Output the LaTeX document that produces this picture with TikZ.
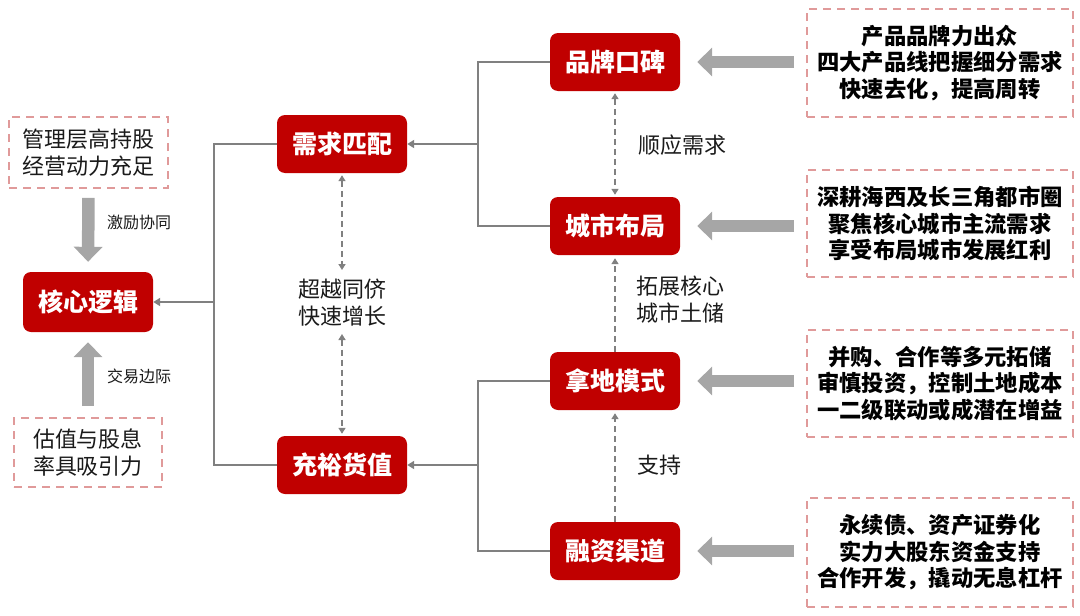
\documentclass[tikz,border=0pt]{standalone}
\usepackage{fontspec}
\setmainfont{Noto Sans CJK SC}
\usetikzlibrary{arrows.meta}
\definecolor{redfill}{HTML}{C00000}
\definecolor{pinkdash}{HTML}{E09A9A}
\definecolor{conngray}{HTML}{808080}
\definecolor{biggray}{HTML}{A6A6A6}
\definecolor{txt}{HTML}{1A1A1A}
\tikzset{
  redbox/.style={fill=redfill, rounded corners=8pt, minimum width=130pt, minimum height=58pt, inner sep=0pt,
    text=white, font=\fontsize{25}{29}\selectfont\bfseries},
  dashbox/.style={draw=pinkdash, line width=1.6pt, dash pattern=on 8pt off 6pt, inner sep=0pt, align=center, text=txt},
  leftbox/.style={dashbox, font=\fontsize{22}{27}\selectfont},
  rightbox/.style={dashbox, minimum width=266pt, font=\fontsize{22.3}{26.5}\selectfont\bfseries, text=black},
  conn/.style={draw=conngray, line width=2.2pt},
  connarr/.style={conn, -{Triangle[width=8pt,length=7pt]}},
  dasharr/.style={draw=conngray, line width=1.6pt, dash pattern=on 6pt off 4pt},
  dtip/.style={-{Triangle[width=7pt,length=6pt]}},
  dboth/.style={{Triangle[width=7pt,length=6pt]}-{Triangle[width=7pt,length=6pt]}},
  bigarrow/.style={draw=biggray, line width=12.5pt, -{Triangle[width=28pt,length=15pt]}},
  lbl/.style={text=txt, font=\fontsize{22}{27}\selectfont, align=left, inner sep=0pt},
  slbl/.style={text=txt, font=\fontsize{16}{20}\selectfont, inner sep=0pt, anchor=west},
}
\begin{document}
\begin{tikzpicture}[x=1pt,y=-1pt]
\useasboundingbox (0,0) rectangle (1080,616);
% red boxes
\node[redbox, minimum height=60pt] (hx) at (88,302) {核心逻辑};
\node[redbox] (xq) at (342,144) {需求匹配};
\node[redbox] (cy) at (342,465) {充裕货值};
\node[redbox] (pp) at (615,62) {品牌口碑};
\node[redbox] (cs) at (615,226) {城市布局};
\node[redbox] (nd) at (615,381) {拿地模式};
\node[redbox] (rz) at (615,551) {融资渠道};
% left dashed boxes
\node[leftbox, minimum width=159pt, minimum height=71pt] (gl) at (88.5,152.5) {管理层高持股\\经营动力充足};
\node[leftbox, minimum width=148pt, minimum height=69pt] (gz) at (88,452.5) {估值与股息\\率具吸引力};
% right dashed boxes
\node[rightbox, minimum height=108pt] (b1) at (940,63) {产品品牌力出众\\四大产品线把握细分需求\\快速去化，提高周转};
\node[rightbox, minimum height=107pt] (b2) at (940,223.5) {深耕海西及长三角都市圈\\聚焦核心城市主流需求\\享受布局城市发展红利};
\node[rightbox, minimum height=107pt] (b3) at (940,383.5) {并购、合作等多元拓储\\审慎投资，控制土地成本\\一二级联动或成潜在增益};
\node[rightbox, minimum height=109pt] (b4) at (940,552.5) {永续债、资产证券化\\实力大股东资金支持\\合作开发，撬动无息杠杆};
% big gray arrows
\draw[bigarrow, shorten <=9pt, shorten >=10pt] (gl.south) -- (hx.north);
\draw[bigarrow, shorten <=11pt, shorten >=10pt] (gz.north) -- (hx.south);
\draw[bigarrow, shorten <=12pt, shorten >=17pt] (b1.west |- pp) -- (pp.east);
\draw[bigarrow, shorten <=12pt, shorten >=17pt] (b2.west |- cs) -- (cs.east);
\draw[bigarrow, shorten <=12pt, shorten >=17pt] (b3.west |- nd) -- (nd.east);
\draw[bigarrow, shorten <=12pt, shorten >=17pt] (b4.west |- rz) -- (rz.east);
% arrow labels left
\node[slbl] (l1) at (107,222) {激励协同};
\node[slbl] (l2) at (107,376) {交易边际};
% connectors
\coordinate (L) at (214,302);
\coordinate (R1) at (478,144);
\coordinate (R2) at (478,465);
\draw[conn] (xq.west) -| (L) |- (cy.west);
\draw[connarr] (L) -- (hx.east);
\draw[conn] (pp.west) -| (R1) |- (cs.west);
\draw[connarr] (R1) -- (xq.east);
\draw[conn] (nd.west) -| (R2) |- (rz.west);
\draw[connarr] (R2) -- (cy.east);
% middle text and dashed arrows
\node[lbl, align=center] (mid) at (342,303) {超越同侪\\快速增长};
\coordinate (m1) at (342,270);
\coordinate (m2) at (342,334);
\draw[dasharr, dboth, shorten <=2pt] (xq.south) -- (m1);
\draw[dasharr, dboth, shorten >=2pt] (m2) -- (cy.north);
% right dashed arrows
\draw[dasharr, dboth, shorten >=2pt, shorten <=2pt] (pp.south) -- (cs.north);
\draw[dasharr, dtip, shorten >=3pt] (nd.north) -- (cs.south);
\draw[dasharr, dtip, shorten >=3pt] (rz.north) -- (nd.south);
\node[lbl, anchor=west] (t1) at (638,145) {顺应需求};
\node[lbl, anchor=west] (t2) at (636,300) {拓展核心\\城市土储};
\node[lbl, anchor=west] (t3) at (637,465) {支持};
\end{tikzpicture}
\end{document}
